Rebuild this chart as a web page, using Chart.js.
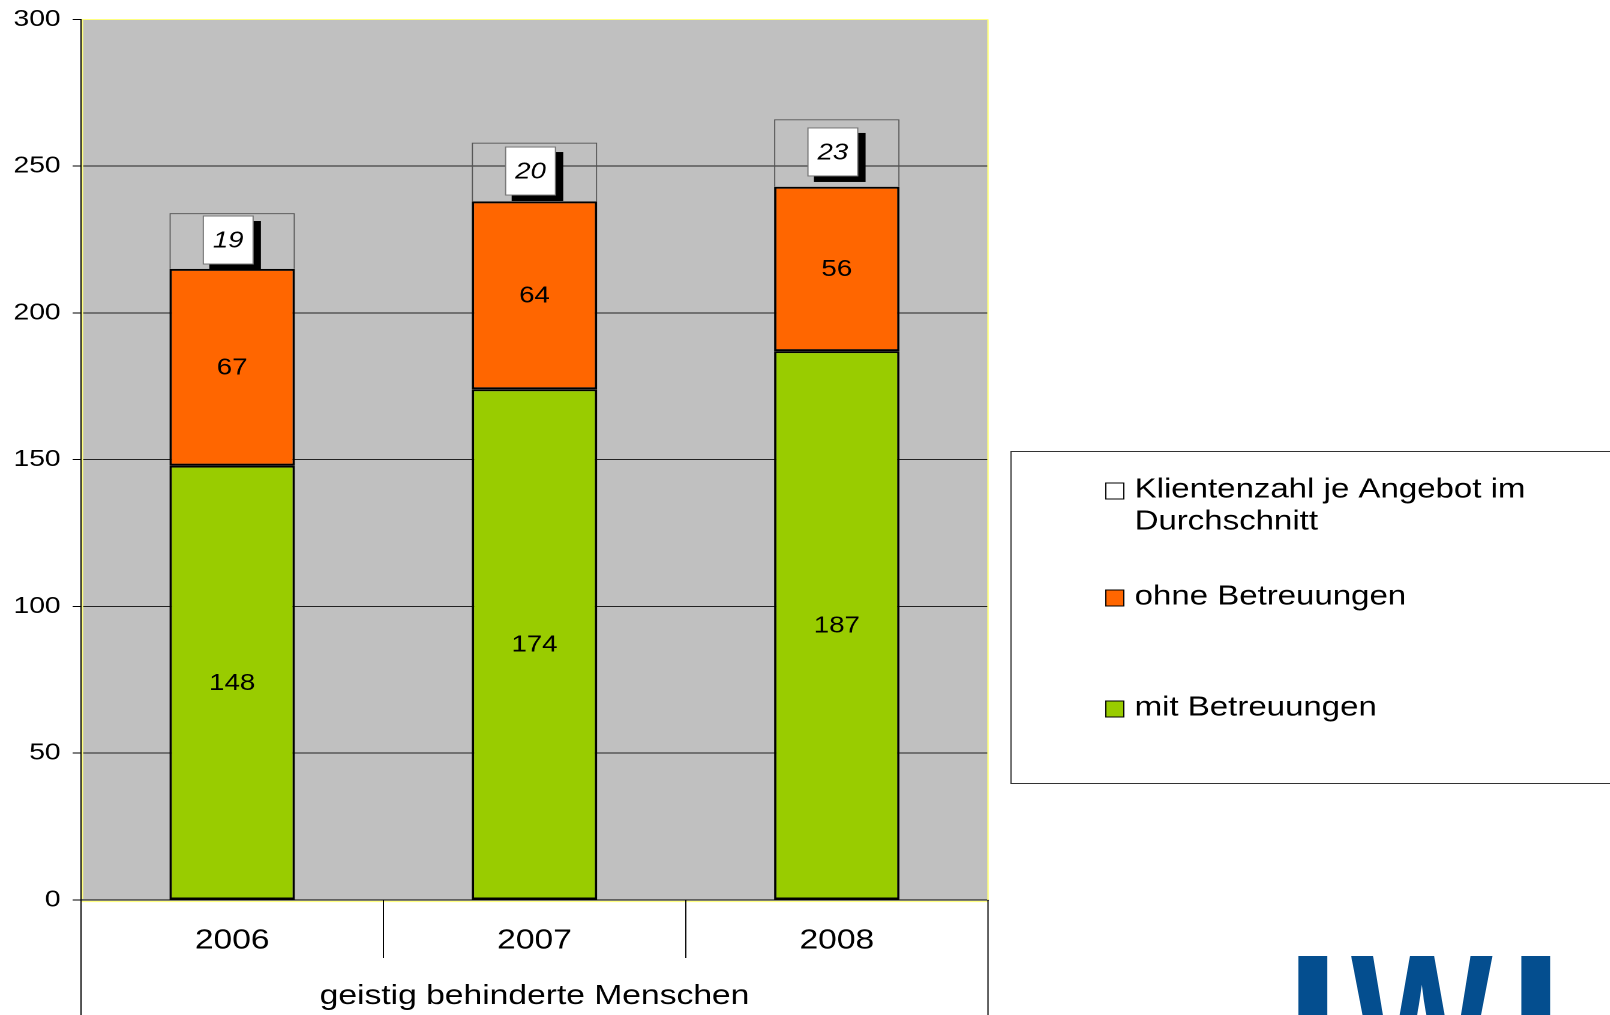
<!DOCTYPE html>
<html>
<head>
<meta charset="utf-8">
<script src="https://cdn.jsdelivr.net/npm/chart.js@4/dist/chart.umd.min.js"></script>
<style>
  html, body { margin: 0; padding: 0; background: #ffffff; overflow: hidden; }
  #stage { position: relative; width: 1610px; height: 1015px; overflow: hidden; }
  #wrap { position: absolute; left: 0; top: 0; width: 1342px; height: 1015px; transform: scaleX(1.2); transform-origin: 0 0; }
  #logo { position: absolute; left: 1290px; top: 956px; width: 320px; height: 59px; overflow: hidden; }
  #logo span { position: absolute; top: -31px; font-family: "Liberation Sans", Arial, sans-serif; font-weight: bold; font-size: 200px; line-height: 1; color: #044e8f; }
</style>
</head>
<body>
<div id="stage">
  <div id="wrap"><canvas id="c" width="1342" height="1015"></canvas></div>
  <div id="logo"><span style="left:-5px">L</span><span style="left:61px;transform:scaleX(0.75);transform-origin:0 0">W</span><span style="left:218px">L</span></div>
</div>
<script>
// ---- data ----
const categories = ['2006', '2007', '2008'];
const mitBetreuungen = [148, 174, 187];
const ohneBetreuungen = [67, 64, 56];
const klientenzahlDurchschnitt = [19, 20, 23];
const seriesLabels = ['mit Betreuungen', 'ohne Betreuungen', 'Klientenzahl je Angebot im Durchschnitt'];
const axisTitle = 'geistig behinderte Menschen';
const yMin = 0, yMax = 300, yStep = 50;

const FONT = '"Liberation Sans", Arial, Helvetica, sans-serif';

const bgPlugin = {
  id: 'bgPlugin',
  beforeDraw(chart) {
    const { ctx, chartArea: a } = chart;
    ctx.save();
    ctx.fillStyle = '#c0c0c0';
    ctx.fillRect(a.left, a.top, a.right - a.left, a.bottom - a.top);
    ctx.restore();
  },
  afterDraw(chart) {
    const { ctx, chartArea: a } = chart;
    const H = chart.height;
    ctx.save();
    ctx.strokeStyle = '#ffff80';
    ctx.lineWidth = 1.2;
    ctx.beginPath();
    ctx.moveTo(a.right, a.top); ctx.lineTo(a.right, a.bottom);
    ctx.moveTo(a.left + 1.2, a.top); ctx.lineTo(a.left + 1.2, a.bottom - 1);
    ctx.moveTo(a.left, a.bottom + 1.5); ctx.lineTo(a.right, a.bottom + 1.5);
    ctx.stroke();
    ctx.strokeStyle = '#000';
    ctx.lineWidth = 1;
    ctx.beginPath();
    ctx.moveTo(a.left, a.bottom); ctx.lineTo(a.left, H);
    ctx.moveTo(a.right, a.bottom); ctx.lineTo(a.right, H);
    const n = categories.length;
    const w = (a.right - a.left) / n;
    for (let i = 1; i < n; i++) {
      const x = Math.round(a.left + w * i) + 0.5;
      ctx.moveTo(x, a.bottom); ctx.lineTo(x, a.bottom + 58);
    }
    ctx.stroke();
    ctx.restore();
  }
};

const labelPlugin = {
  id: 'labelPlugin',
  afterDatasetsDraw(chart) {
    const { ctx } = chart;
    ctx.save();
    ctx.textAlign = 'center';
    ctx.textBaseline = 'middle';
    [0, 1].forEach(di => {
      const meta = chart.getDatasetMeta(di);
      const data = chart.data.datasets[di].data;
      meta.data.forEach((bar, j) => {
        ctx.font = '23px ' + FONT;
        ctx.fillStyle = '#000';
        ctx.fillText(String(data[j]), bar.x, (bar.y + bar.base) / 2 + 1);
      });
    });
    const meta2 = chart.getDatasetMeta(2);
    const data2 = chart.data.datasets[2].data;
    meta2.data.forEach((bar, j) => {
      const cx = bar.x - 3.3, cy = (bar.y + bar.base) / 2 - 1;
      const bw = 41.5, bh = 48;
      ctx.fillStyle = '#000';
      ctx.fillRect(cx - bw / 2 + 5, cy - bh / 2 + 5, bw + 1.5, bh + 1);
      ctx.fillStyle = '#fff';
      ctx.fillRect(cx - bw / 2, cy - bh / 2, bw, bh);
      ctx.strokeStyle = '#777';
      ctx.lineWidth = 1;
      ctx.strokeRect(cx - bw / 2, cy - bh / 2, bw, bh);
      ctx.fillStyle = '#000';
      ctx.font = 'italic 23px ' + FONT;
      ctx.fillText(String(data2[j]), cx, cy + 1);
    });
    ctx.restore();
  }
};

const legendPlugin = {
  id: 'legendPlugin',
  afterDraw(chart) {
    const { ctx } = chart;
    ctx.save();
    ctx.strokeStyle = '#333';
    ctx.lineWidth = 1;
    ctx.strokeRect(842.5, 451.5, 600, 332);
    const ds = chart.data.datasets;
    const order = [2, 1, 0];
    const rowsY = [490, 597, 708];
    const textX = 945.5, boxX = 921.5, boxW = 15, boxH = 16;
    ctx.font = '27.5px ' + FONT;
    ctx.textBaseline = 'middle';
    ctx.textAlign = 'left';
    order.forEach((di, k) => {
      const d = ds[di];
      const y = rowsY[k];
      ctx.fillStyle = d.legendFill;
      ctx.fillRect(boxX, y - boxH / 2 + 1, boxW, boxH);
      ctx.strokeStyle = '#000';
      ctx.lineWidth = 1;
      ctx.strokeRect(boxX, y - boxH / 2 + 1, boxW, boxH);
      const words = d.label.split(' ');
      const lines = [];
      let line = '';
      words.forEach(wd => {
        const t = line ? line + ' ' + wd : wd;
        if (ctx.measureText(t).width > 370 && line) { lines.push(line); line = wd; }
        else line = t;
      });
      lines.push(line);
      ctx.fillStyle = '#000';
      lines.forEach((ln, li) => ctx.fillText(ln, textX, y + li * 32));
    });
    ctx.restore();
  }
};

new Chart(document.getElementById('c'), {
  type: 'bar',
  data: {
    labels: categories,
    datasets: [
      { label: seriesLabels[0], data: mitBetreuungen, backgroundColor: '#99cc00', legendFill: '#99cc00',
        borderColor: '#000', borderWidth: 2, borderSkipped: false },
      { label: seriesLabels[1], data: ohneBetreuungen, backgroundColor: '#ff6600', legendFill: '#ff6600',
        borderColor: '#000', borderWidth: 2, borderSkipped: false },
      { label: seriesLabels[2], data: klientenzahlDurchschnitt, backgroundColor: 'rgba(0,0,0,0)', legendFill: '#ffffff',
        borderColor: '#555', borderWidth: 1, borderSkipped: 'start' }
    ]
  },
  options: {
    responsive: false,
    devicePixelRatio: 2,
    animation: false,
    layout: { padding: { left: 0, right: 518.7, top: 0, bottom: 0 } },
    datasets: { bar: { categoryPercentage: 1, barPercentage: 0.415 } },
    plugins: { legend: { display: false }, tooltip: { enabled: false } },
    scales: {
      x: {
        stacked: true,
        grid: { display: false },
        border: { display: true, color: '#000', width: 1 },
        ticks: { color: '#000', font: { family: FONT, size: 28 }, padding: 16, maxRotation: 0 },
        title: { display: true, text: axisTitle, color: '#000', font: { family: FONT, size: 28 }, padding: { top: 0, bottom: 2 } },
        afterFit(s) { s.height = 115; }
      },
      y: {
        stacked: true,
        min: yMin, max: yMax,
        ticks: { stepSize: yStep, color: '#000', font: { family: FONT, size: 23.5, lineHeight: 0.8 }, padding: 10 },
        grid: {
          color: c => (c.tick && c.tick.value === yMax) ? '#ffff80' : '#222',
          lineWidth: 1, tickLength: 7, tickColor: '#000'
        },
        border: { display: true, color: '#000', width: 1 },
        afterFit(s) { s.width = 67.5; }
      }
    }
  },
  plugins: [bgPlugin, labelPlugin, legendPlugin]
});
</script>
</body>
</html>
